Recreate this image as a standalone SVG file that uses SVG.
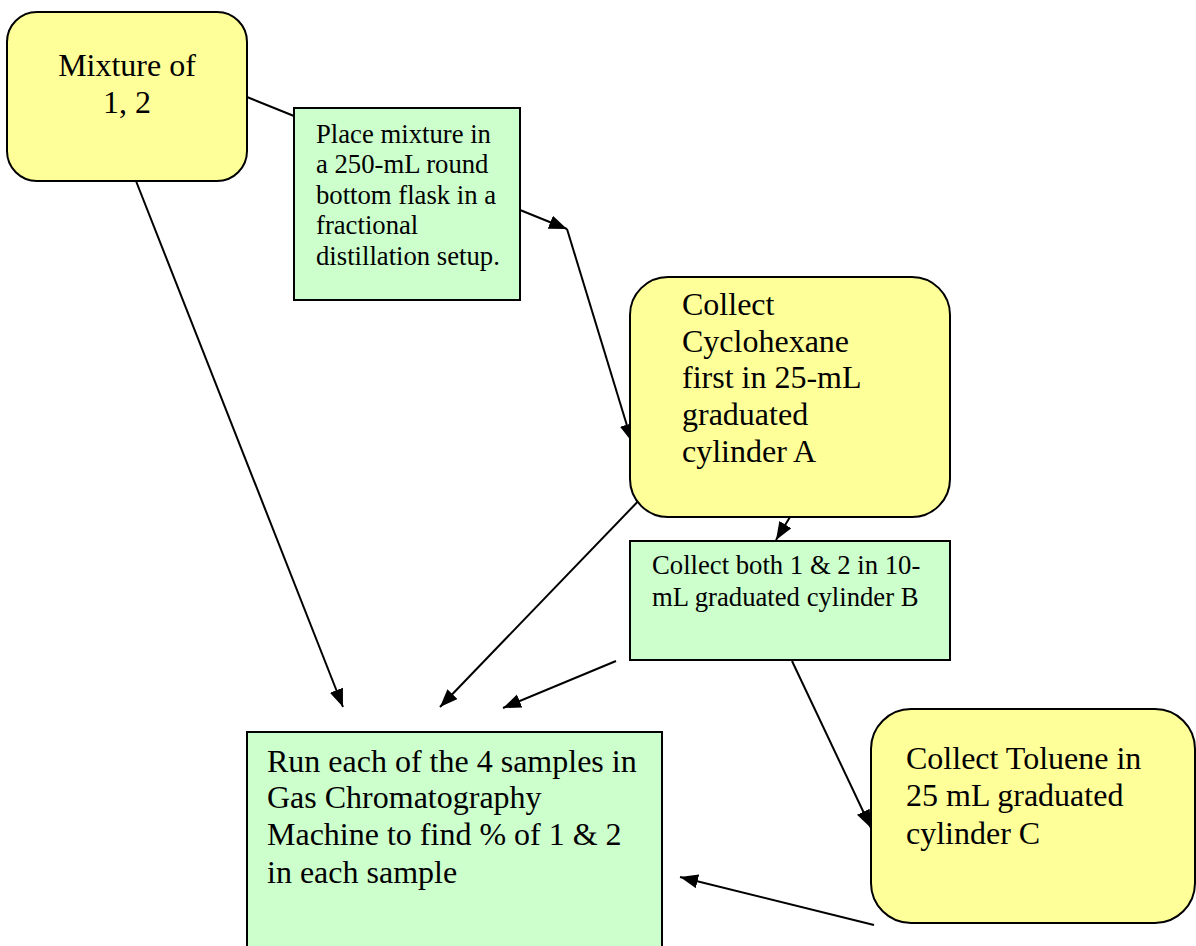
<svg xmlns="http://www.w3.org/2000/svg" width="1196" height="946" viewBox="0 0 1196 946">
<style>
.y{fill:#FFFF99;stroke:#000;stroke-width:2}
.g{fill:#CCFFCC;stroke:#000;stroke-width:2}
.big{font-family:"Liberation Serif","Times New Roman",serif;font-size:32px;fill:#000}
.sm{font-family:"Liberation Serif","Times New Roman",serif;font-size:26.7px;fill:#000}
.c{stroke:#000;stroke-width:2;fill:none}
</style>
<defs>
<marker id="ah" markerUnits="userSpaceOnUse" markerWidth="20" markerHeight="16" refX="18" refY="7" orient="auto">
<path d="M0,0 L18,7 L0,14 z" fill="#000"/>
</marker>
</defs>
<rect width="1196" height="946" fill="#fff"/>
<g id="connectors">
<line class="c" x1="247" y1="97" x2="294" y2="116"/>
<line class="c" x1="520" y1="210" x2="567" y2="229" marker-end="url(#ah)"/>
<line class="c" x1="567" y1="229" x2="632" y2="442" marker-end="url(#ah)"/>
<line class="c" x1="647" y1="492" x2="440" y2="707" marker-end="url(#ah)"/>
<line class="c" x1="136" y1="181" x2="343" y2="707" marker-end="url(#ah)"/>
<line class="c" x1="616" y1="661" x2="503" y2="708" marker-end="url(#ah)"/>
<line class="c" x1="790" y1="517" x2="776" y2="540" marker-end="url(#ah)"/>
<line class="c" x1="792" y1="661" x2="871" y2="828" marker-end="url(#ah)"/>
<line class="c" x1="874" y1="925" x2="680" y2="877" marker-end="url(#ah)"/>
</g>
<g id="mixture">
<rect class="y" x="7" y="12" width="240" height="169" rx="30" ry="30"/>
<text class="big" x="127" y="76" text-anchor="middle">Mixture of</text>
<text class="big" x="127" y="113" text-anchor="middle">1, 2</text>
</g>
<g id="place">
<rect class="g" x="294" y="108" width="226" height="192"/>
<text class="sm" x="316" y="143">Place mixture in</text>
<text class="sm" x="316" y="173">a 250-mL round</text>
<text class="sm" x="316" y="204">bottom flask in a</text>
<text class="sm" x="316" y="234">fractional</text>
<text class="sm" x="316" y="265">distillation setup.</text>
</g>
<g id="cyclohexane">
<rect class="y" x="630" y="277" width="320" height="240" rx="38" ry="38"/>
<text class="big" x="682" y="315">Collect</text>
<text class="big" x="682" y="352">Cyclohexane</text>
<text class="big" x="682" y="388">first in 25-mL</text>
<text class="big" x="682" y="425">graduated</text>
<text class="big" x="682" y="462">cylinder A</text>
</g>
<g id="collectB">
<rect class="g" x="630" y="541" width="320" height="119"/>
<text class="sm" x="652" y="574">Collect both 1 &amp; 2 in 10-</text>
<text class="sm" x="652" y="606">mL graduated cylinder B</text>
</g>
<g id="toluene">
<rect class="y" x="871" y="709" width="324" height="214" rx="40" ry="40"/>
<text class="big" x="906" y="769">Collect Toluene in</text>
<text class="big" x="906" y="806">25 mL graduated</text>
<text class="big" x="906" y="844">cylinder C</text>
</g>
<g id="run">
<rect class="g" x="247" y="732" width="415" height="240"/>
<text class="big" x="267" y="772">Run each of the 4 samples in</text>
<text class="big" x="267" y="808">Gas Chromatography</text>
<text class="big" x="267" y="845">Machine to find % of 1 &amp; 2</text>
<text class="big" x="267" y="883">in each sample</text>
</g>
</svg>
